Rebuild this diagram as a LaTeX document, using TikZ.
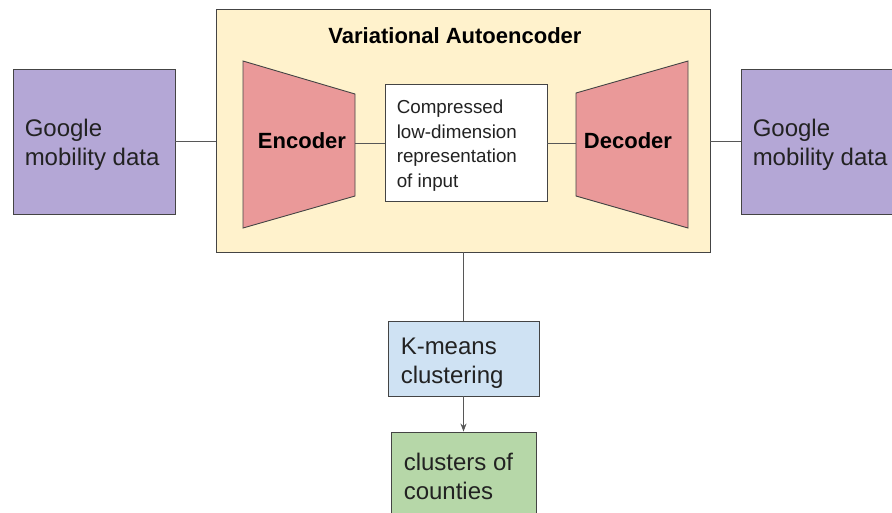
\documentclass[tikz,border=0pt]{standalone}
\usepackage{fontspec}
\setmainfont{Liberation Sans}
\usetikzlibrary{arrows.meta}
\definecolor{purp}{HTML}{B4A7D6}
\definecolor{vaefill}{HTML}{FFF2CC}
\definecolor{redfill}{HTML}{EA9999}
\definecolor{bluefill}{HTML}{CFE2F3}
\definecolor{greenfill}{HTML}{B6D7A8}
\definecolor{edge}{HTML}{444444}
\definecolor{txt}{HTML}{222222}
\begin{document}
\begin{tikzpicture}[x=1pt,y=-1pt,
  box/.style={draw=edge, line width=0.9pt, inner sep=0pt},
  lab/.style={text=txt, align=left, anchor=west, inner sep=0pt},
  big/.style={font=\fontsize{24}{29}\selectfont},
  small/.style={font=\fontsize{18.8}{24.5}\selectfont},
  bold/.style={font=\fontsize{22}{26}\selectfont\bfseries, text=black},
  conn/.style={draw=edge!90, line width=0.9pt},
  trap/.style={draw=edge, line width=0.9pt, fill=redfill}]
\useasboundingbox (0,0) rectangle (892,512);
\clip (0,0) rectangle (892,512);
\fill[white] (0,0) rectangle (892,512);

% Variational Autoencoder container
\node[box, fill=vaefill, minimum width=494pt, minimum height=243pt] (vae) at (463,130.5) {};
\node[bold] (title) at (455,36) {Variational Autoencoder};

% Encoder trapezoid
\coordinate (e1) at (243,61);
\coordinate (e2) at (355,94);
\coordinate (e3) at (355,196);
\coordinate (e4) at (243,228);
\draw[trap] (e1) -- (e2) -- (e3) -- (e4) -- cycle;
\coordinate (encR) at (355,143);
\node[bold] (enc) at (302,141) {Encoder};

% Decoder trapezoid
\coordinate (d1) at (576,93);
\coordinate (d2) at (688,61);
\coordinate (d3) at (688,228);
\coordinate (d4) at (576,196);
\draw[trap] (d1) -- (d2) -- (d3) -- (d4) -- cycle;
\coordinate (decL) at (576,143);
\node[bold] (dec) at (628,141) {Decoder};

% Compressed representation
\node[box, fill=white, minimum width=162pt, minimum height=117pt] (mid) at (466,142.5) {};
\node[lab, small] (midt) at ([xshift=12pt, yshift=-3pt]mid.west)
  {Compressed\\low-dimension\\representation\\of input};

% Input / output
\node[box, fill=purp, minimum width=162pt, minimum height=145pt] (inp) at (94,141.5) {};
\node[lab, big] (inpt) at ([xshift=12pt, yshift=-3pt]inp.west) {Google\\mobility data};
\node[box, fill=purp, minimum width=162pt, minimum height=145pt] (out) at (822,141.5) {};
\node[lab, big] (outt) at ([xshift=12pt, yshift=-3pt]out.west) {Google\\mobility data};

% K-means and clusters
\node[box, fill=bluefill, minimum width=151pt, minimum height=75pt] (km) at (463.5,358.5) {};
\node[lab, big] (kmt) at ([xshift=13pt, yshift=-5pt]km.west) {K-means\\clustering};
\node[box, fill=greenfill, minimum width=145pt, minimum height=88pt] (cl) at (463.5,476) {};
\node[lab, big] (clt) at ([xshift=13pt, yshift=0pt]cl.west) {clusters of\\counties};

% Connectors
\draw[conn] (inp.east) -- (vae.west |- inp.east);
\draw[conn] (encR) -- (mid.west |- encR);
\draw[conn] (mid.east |- decL) -- (decL);
\draw[conn] (vae.east |- out.west) -- (out.west);
\draw[conn] (vae.south -| km.north) -- (km.north);
\draw[conn, -{Stealth[length=8pt,width=6pt]}] (km.south) -- (cl.north);
\end{tikzpicture}
\end{document}
